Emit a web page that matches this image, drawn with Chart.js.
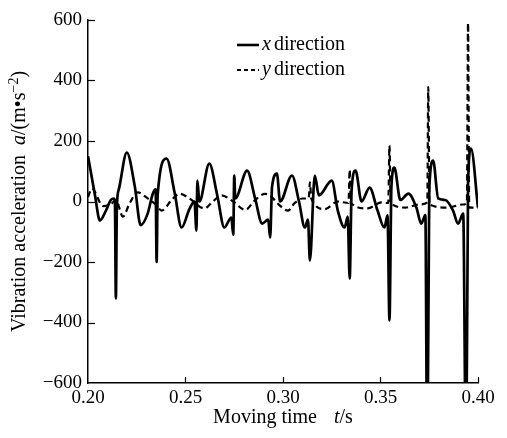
<!DOCTYPE html>
<html>
<head>
<meta charset="utf-8">
<script src="https://cdn.jsdelivr.net/npm/chart.js@4.4.1/dist/chart.umd.min.js"></script>
<style>
  html, body { margin: 0; padding: 0; background: #fff; }
  #wrap { width: 507px; height: 438px; }
</style>
</head>
<body>
<div id="wrap"><canvas id="chart" width="507" height="438"></canvas></div>
<script>
// x direction: time (s) and acceleration (m/s^2)
var xDirTime = [
  0.2000, 0.2036, 0.2061, 0.2092, 0.2117, 0.2133, 0.2138, 0.2143, 0.2148, 0.2158,
  0.2199, 0.2240, 0.2270, 0.2306, 0.2332, 0.2347, 0.2352, 0.2357, 0.2403, 0.2444,
  0.2480, 0.2520, 0.2546, 0.2556, 0.2561, 0.2571, 0.2622, 0.2663, 0.2699, 0.2735,
  0.2745, 0.2750, 0.2755, 0.2816, 0.2857, 0.2893, 0.2924, 0.2934, 0.2944, 0.2969,
  0.2985, 0.3046, 0.3082, 0.3112, 0.3128, 0.3138, 0.3163, 0.3184, 0.3250, 0.3281,
  0.3316, 0.3332, 0.3342, 0.3352, 0.3372, 0.3403, 0.3444, 0.3485, 0.3520, 0.3536,
  0.3546, 0.3556, 0.3571, 0.3602, 0.3643, 0.3684, 0.3709, 0.3730, 0.3740, 0.3750,
  0.3770, 0.3796, 0.3832, 0.3872, 0.3898, 0.3924, 0.3939, 0.3949, 0.3964, 0.4000
];
var xDirAccel = [
  150, 20, -63, -30, 5, 10, 0, -320, -20, 40,
  162, 50, -78, -40, 25, 40, -200, 20, 142, 30,
  -86, -25, 0, -96, 69, 0, 125, 20, -86, -53,
  -110, 86, 10, 102, 10, -73, -60, -119, 50, 92,
  0, 86, 0, -86, -60, -195, 86, 20, 69, -30,
  -86, -50, -255, 40, 102, 0, 46, -30, -86, -46,
  -393, 50, 112, 5, 26, -20, -73, -45, -900, 40,
  135, 10, 5, -30, -73, -40, -900, 60, 175, -20
];

// y direction
var yDirTime = [
  0.2000, 0.2020, 0.2077, 0.2115, 0.2143, 0.2179, 0.2214, 0.2255, 0.2301, 0.2347,
  0.2378, 0.2429, 0.2469, 0.2520, 0.2597, 0.2640, 0.2684, 0.2745, 0.2806, 0.2857,
  0.2908, 0.2934, 0.2970, 0.3026, 0.3060, 0.3100, 0.3132, 0.3138, 0.3145, 0.3214,
  0.3281, 0.3336, 0.3342, 0.3348, 0.3434, 0.3505, 0.3540, 0.3546, 0.3552, 0.3628,
  0.3700, 0.3740, 0.3745, 0.3751, 0.3847, 0.3920, 0.3943, 0.3949, 0.3955, 0.4000
];
var yDirAccel = [
  15, 43, -15, -10, 5, -50, -5, 30, 13, -10,
  -30, 5, 26, 10, -23, 0, 20, 0, -28, 5,
  25, 20, -5, -30, -5, 10, 10, 63, 10, -25,
  0, -5, 105, -5, -23, -3, -5, 185, -5, -20,
  -10, -3, 378, -10, -20, -10, -5, 590, -20, -20
];

var timeTicks = [0.20, 0.25, 0.30, 0.35, 0.40];
var accelTicks = [-600, -400, -200, 0, 200, 400, 600];

var serif = '"Liberation Serif", "DejaVu Serif", serif';

function toPoints(ts, vs) {
  return ts.map(function (t, i) { return { x: t, y: vs[i] }; });
}

function fontFor(kind, size) {
  if (kind === 'i') return 'italic ' + size + 'px ' + serif;
  if (kind === 'sup') return Math.round(size * 0.68) + 'px ' + serif;
  return size + 'px ' + serif;
}

// runs are [text, kind] pairs; a number stands for a blank gap in px
function runsWidth(ctx, runs, size) {
  var w = 0;
  runs.forEach(function (r) {
    if (typeof r === 'number') { w += r; return; }
    ctx.font = fontFor(r[1], size);
    w += ctx.measureText(r[0]).width;
  });
  return w;
}

function drawRuns(ctx, runs, x, y, size) {
  ctx.textBaseline = 'middle';
  ctx.textAlign = 'left';
  runs.forEach(function (r) {
    if (typeof r === 'number') { x += r; return; }
    ctx.font = fontFor(r[1], size);
    ctx.fillText(r[0], x, r[1] === 'sup' ? y - 6 : y);
    x += ctx.measureText(r[0]).width;
  });
}

function seg(ctx, x1, y1, x2, y2) {
  ctx.beginPath();
  ctx.moveTo(x1, y1);
  ctx.lineTo(x2, y2);
  ctx.stroke();
}

// inward tick marks, axis titles and the legend
var decorations = {
  id: 'decorations',
  afterDraw: function (chart) {
    var ctx = chart.ctx, area = chart.chartArea;
    var xs = chart.scales.x, ys = chart.scales.y;
    ctx.save();
    ctx.fillStyle = '#000';
    ctx.strokeStyle = '#000';
    ctx.lineWidth = 1.2;

    accelTicks.forEach(function (v) {
      if (v === -600) return;
      var py = Math.round(ys.getPixelForValue(v)) + 0.5;
      seg(ctx, area.left, py, area.left + 7, py);
    });
    timeTicks.forEach(function (v) {
      if (v === 0.20) return;
      var px = Math.round(xs.getPixelForValue(v)) + 0.5;
      seg(ctx, px, area.bottom, px, area.bottom - 6);
    });

    var xTitle = [['Moving time', ''], 17, ['t', 'i'], ['/s', '']];
    var w = runsWidth(ctx, xTitle, 20);
    drawRuns(ctx, xTitle, (area.left + area.right) / 2 - w / 2, 418, 20);

    var yTitle = [['Vibration acceleration', ''], 10, ['a', 'i'], ['/(m\u2022s', ''], ['\u22122', 'sup'], [')', '']];
    ctx.save();
    ctx.translate(20, (area.top + area.bottom) / 2);
    ctx.rotate(-Math.PI / 2);
    w = runsWidth(ctx, yTitle, 20);
    drawRuns(ctx, yTitle, -w / 2, 0, 20);
    ctx.restore();

    ctx.lineWidth = 2.6;
    seg(ctx, 237, 45, 259, 45);
    drawRuns(ctx, [['x', 'i'], 3, ['direction', '']], 262, 45, 20);
    ctx.lineWidth = 2;
    ctx.setLineDash([4, 3]);
    seg(ctx, 237, 70, 259, 70);
    ctx.setLineDash([]);
    drawRuns(ctx, [['y', 'i'], 3, ['direction', '']], 262, 70, 20);

    ctx.restore();
  }
};

new Chart(document.getElementById('chart'), {
  type: 'line',
  data: {
    datasets: [
      {
        label: 'x direction',
        data: toPoints(xDirTime, xDirAccel),
        borderColor: '#000',
        borderWidth: 2.7,
        pointRadius: 0,
        cubicInterpolationMode: 'monotone'
      },
      {
        label: 'y direction',
        data: toPoints(yDirTime, yDirAccel),
        borderColor: '#000',
        borderWidth: 2.2,
        borderDash: [6, 4],
        pointRadius: 0,
        cubicInterpolationMode: 'monotone'
      }
    ]
  },
  options: {
    animation: false,
    responsive: false,
    devicePixelRatio: 1,
    layout: { padding: { top: 20, right: 29, left: 0, bottom: 0 } },
    plugins: { legend: { display: false }, tooltip: { enabled: false } },
    scales: {
      x: {
        type: 'linear',
        min: 0.2,
        max: 0.4,
        afterBuildTicks: function (s) { s.ticks = timeTicks.map(function (v) { return { value: v }; }); },
        afterFit: function (s) { s.height = 55; },
        grid: { display: false, drawTicks: false },
        border: { display: true, color: '#000', width: 1.5 },
        ticks: {
          color: '#000',
          padding: 4,
          maxRotation: 0,
          font: { family: serif, size: 19 },
          callback: function (v) { return Number(v).toFixed(2); }
        }
      },
      y: {
        min: -600,
        max: 600,
        afterBuildTicks: function (s) { s.ticks = accelTicks.map(function (v) { return { value: v }; }); },
        afterFit: function (s) { s.width = 88; },
        grid: { display: false, drawTicks: false },
        border: { display: true, color: '#000', width: 1.5 },
        ticks: {
          color: '#000',
          padding: 6,
          font: { family: serif, size: 19 },
          callback: function (v) { return v < 0 ? '\u2212' + Math.abs(v) : String(v); }
        }
      }
    }
  },
  plugins: [decorations]
});
</script>
</body>
</html>
